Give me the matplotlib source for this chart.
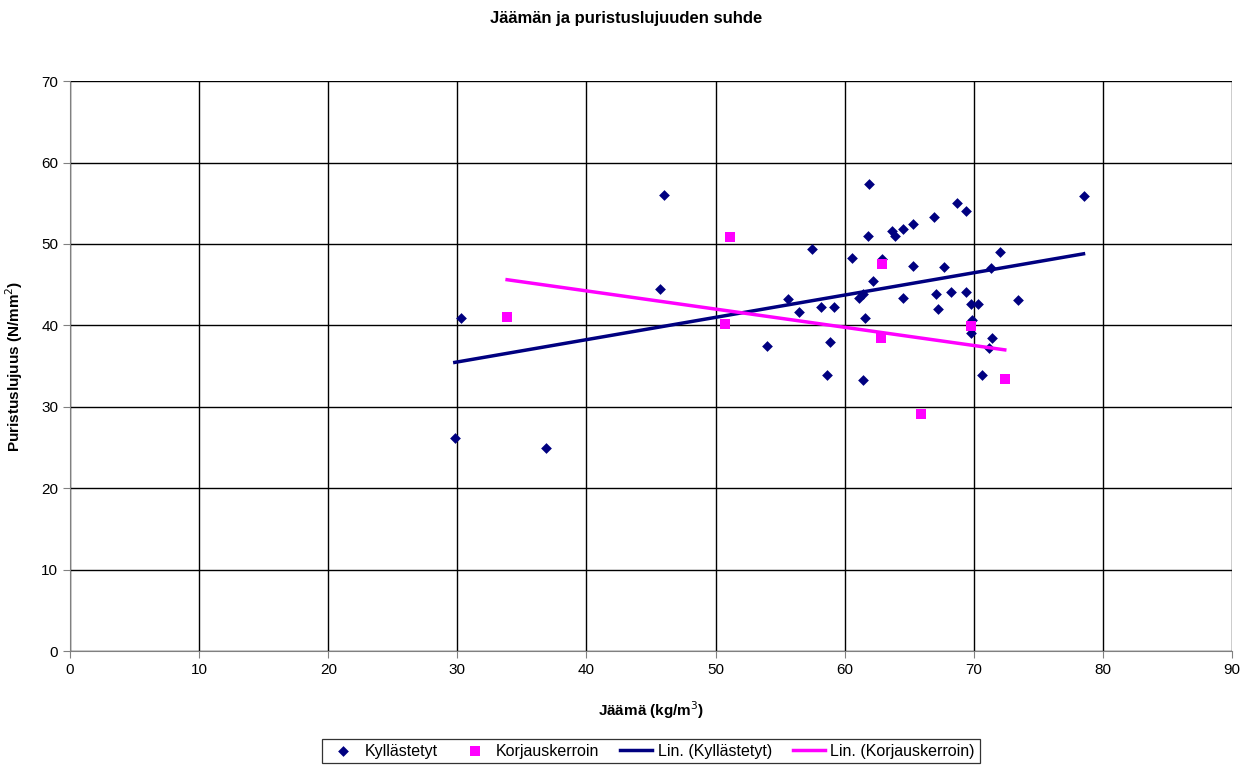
import numpy as np
import matplotlib.pyplot as plt

plt.rcParams['font.family'] = ['Liberation Sans', 'DejaVu Sans']

# Kyllästetyt: jäämä (kg/m3) ja puristuslujuus (N/mm2)
kyl_x = [29.8, 30.3, 36.9, 45.7, 46.0, 54.0, 55.6, 56.5, 57.5, 58.2, 58.6,
         58.9, 59.2, 60.6, 61.1, 61.4, 61.4, 61.6, 61.8, 61.9, 62.2, 62.9,
         63.7, 63.9, 64.5, 64.5, 65.3, 65.3, 66.9, 67.1, 67.2, 67.7, 68.2,
         68.7, 69.4, 69.4, 69.8, 69.8, 69.9, 70.3, 70.6, 71.2, 71.3, 71.4,
         72.0, 73.4, 78.5]
kyl_y = [26.2, 40.9, 24.9, 44.5, 56.0, 37.5, 43.2, 41.7, 49.4, 42.3, 33.9,
         38.0, 42.3, 48.3, 43.3, 43.8, 33.3, 40.9, 51.0, 57.3, 45.4, 48.1,
         51.6, 51.0, 51.8, 43.3, 52.4, 47.3, 53.3, 43.9, 42.0, 47.2, 44.1,
         55.0, 54.1, 44.1, 42.6, 39.0, 40.7, 42.6, 33.9, 37.2, 47.1, 38.4,
         49.0, 43.1, 55.9]

# Korjauskerroin
kor_x = [33.85, 50.7, 51.1, 62.8, 62.9, 65.9, 69.75, 72.4]
kor_y = [41.0, 40.2, 50.9, 38.4, 47.5, 29.1, 39.95, 33.4]

navy = '#000080'
magenta = '#FF00FF'

fig = plt.figure(figsize=(12.52, 7.65), dpi=100)
ax = fig.add_axes([0.056, 0.149, 0.928, 0.745])

ax.scatter(kyl_x, kyl_y, marker='D', s=30, color=navy, linewidths=0,
           label='Kyllästetyt', zorder=3)
ax.scatter(kor_x, kor_y, marker='s', s=55, color=magenta, linewidths=0,
           label='Korjauskerroin', zorder=4)

# lineaariset trendit
for xs, ys, col, name in [(kyl_x, kyl_y, navy, 'Lin. (Kyllästetyt)'),
                          (kor_x, kor_y, magenta, 'Lin. (Korjauskerroin)')]:
    k, b = np.polyfit(xs, ys, 1)
    xx = np.array([min(xs), max(xs)])
    ax.plot(xx, k * xx + b, color=col, lw=2.5, label=name, zorder=5)

ax.set_xlim(0, 90)
ax.set_ylim(0, 70)
ax.set_xticks(range(0, 91, 10))
ax.set_yticks(range(0, 71, 10))
ax.grid(True, color='black', lw=1.0)
ax.set_axisbelow(True)
for s in ['top', 'right']:
    ax.spines[s].set_visible(False)
for s in ['left', 'bottom']:
    ax.spines[s].set_color('#808080')
ax.tick_params(direction='out', length=5, color='#808080', labelsize=11)

ax.set_xlabel('Jäämä (kg/m$^3$)', fontsize=11, fontweight='bold', labelpad=16)
ax.set_ylabel('Puristuslujuus (N/mm$^2$)', fontsize=11, fontweight='bold', labelpad=12)
fig.suptitle('Jäämän ja puristuslujuuden suhde', fontsize=12, fontweight='bold', y=0.985)

leg = ax.legend(loc='upper center', bbox_to_anchor=(0.5, -0.154), ncol=4,
                fontsize=11.5, frameon=True, fancybox=False, edgecolor='black',
                handlelength=2.0, handletextpad=0.35, columnspacing=1.3,
                borderpad=0.3, borderaxespad=0)
leg.get_frame().set_linewidth(0.9)

fig.savefig('out.png', dpi=100)
